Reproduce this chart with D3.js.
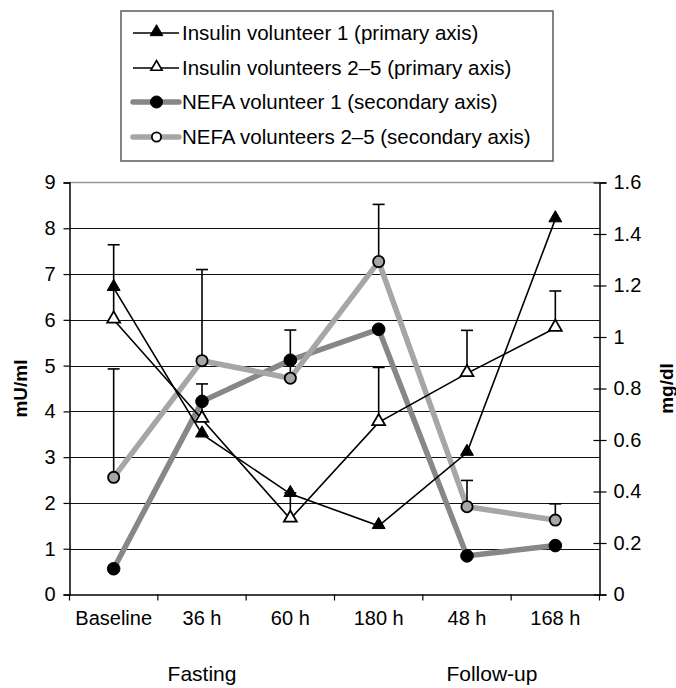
<!DOCTYPE html>
<html>
<head>
<meta charset="utf-8">
<script src="https://cdn.jsdelivr.net/npm/d3@7"></script>
<style>
  html, body { margin: 0; padding: 0; background: #fff; }
  svg { display: block; }
  text { font-family: "Liberation Sans", Arial, Helvetica, sans-serif; fill: #000; }
</style>
</head>
<body>
<svg id="chart" width="676" height="688"></svg>
<script>
// ---- data ----
const categories = ["Baseline", "36 h", "60 h", "180 h", "48 h", "168 h"];
const insulinVol1 = [6.7, 3.5, 2.2, 1.5, 3.1, 8.2];
const insulinVol25 = [6.0, 3.83, 1.65, 3.76, 4.83, 5.82];
const insulinVol25Err = [1.64, 0.77, 0.57, 1.2, 0.94, 0.81];
const nefaVol1 = [0.1, 0.75, 0.91, 1.03, 0.15, 0.19];
const nefaVol25 = [0.455, 0.908, 0.84, 1.293, 0.341, 0.289];
const nefaVol25Err = [0.421, 0.354, 0.187, 0.222, 0.102, 0.063];
const leftTicks = [0, 1, 2, 3, 4, 5, 6, 7, 8, 9];
const rightTicks = [0, 0.2, 0.4, 0.6, 0.8, 1.0, 1.2, 1.4, 1.6];
const seriesNames = [
  "Insulin volunteer 1 (primary axis)",
  "Insulin volunteers 2\u20135 (primary axis)",
  "NEFA volunteer 1 (secondary axis)",
  "NEFA volunteers 2\u20135 (secondary axis)"
];
const groupLabels = ["Fasting", "Follow-up"];

// ---- layout ----
const svg = d3.select("#chart");
const L = 69.5, R = 599.5, T = 182.5, B = 594.5;
const FS = 20;

const x = d3.scaleBand().domain(categories).range([L, R]).paddingInner(0).paddingOuter(0);
const cx = c => x(c) + x.bandwidth() / 2;
const yL = d3.scaleLinear().domain([0, 9]).range([B, T]);
const yR = d3.scaleLinear().domain([0, 1.6]).range([B, T]);

const darkGrey = "#878787";
const lightGrey = "#a6a6a6";

// gridlines (primary axis)
svg.append("g").selectAll("line")
  .data(leftTicks.filter(d => d > 0 && d < 9))
  .join("line")
  .attr("x1", L).attr("x2", R)
  .attr("y1", d => Math.round(yL(d)) + 0.5).attr("y2", d => Math.round(yL(d)) + 0.5)
  .attr("stroke", "#111").attr("stroke-width", 1);
// top border of plot area
svg.append("line")
  .attr("x1", L).attr("x2", R).attr("y1", T).attr("y2", T)
  .attr("stroke", "#999").attr("stroke-width", 1.6);

// axes
const axisLeft = d3.axisLeft(yL).tickValues(leftTicks).tickSize(6).tickPadding(8).tickFormat(d3.format("d"));
const gL = svg.append("g").attr("transform", `translate(${L},0)`).call(axisLeft);
const axisRight = d3.axisRight(yR).tickValues(rightTicks).tickSize(7).tickPadding(7)
  .tickFormat(d => String(+d.toFixed(1)));
const gR = svg.append("g").attr("transform", `translate(${R},0)`).call(axisRight);
// right ticks cross the axis
gR.selectAll(".tick line").attr("x1", -6);

const boundaries = categories.map(c => x(c)).concat([R]);
const axisBottom = d3.axisBottom(x).tickSize(0).tickPadding(24);
const gB = svg.append("g").attr("transform", `translate(0,${B})`).call(axisBottom);
gB.selectAll(".tick text").attr("dy", "0.3em");
gB.append("g").selectAll("line").data(boundaries).join("line")
  .attr("x1", d => d).attr("x2", d => d).attr("y1", 0).attr("y2", 6)
  .attr("stroke", "#000").attr("stroke-width", 1.2);

[gL, gR, gB].forEach(g => {
  g.select(".domain").attr("stroke", "#000").attr("stroke-width", 1.5);
  g.selectAll(".tick line").attr("stroke", "#000").attr("stroke-width", 1.2);
  g.selectAll("text").attr("font-size", FS).attr("font-family", '"Liberation Sans", Arial, sans-serif').attr("fill", "#000");
});

// axis titles
svg.append("text").attr("transform", `translate(27,${(T + B) / 2}) rotate(-90)`)
  .attr("text-anchor", "middle").attr("font-size", 19).attr("font-weight", "bold").text("mU/ml");
svg.append("text").attr("transform", `translate(673,${(T + B) / 2}) rotate(-90)`)
  .attr("text-anchor", "middle").attr("font-size", 19).attr("font-weight", "bold").text("mg/dl");

// group labels
svg.append("text").attr("x", cx(categories[1])).attr("y", 681).attr("text-anchor", "middle")
  .attr("font-size", 21).text(groupLabels[0]);
svg.append("text").attr("x", L + (R - L) * 0.797).attr("y", 681).attr("text-anchor", "middle")
  .attr("font-size", 21).text(groupLabels[1]);

// ---- series ----
const plot = svg.append("g");
const lineOf = (vals, ys) => d3.line().x((d, i) => cx(categories[i])).y(d => ys(d))(vals);

// NEFA lines
plot.append("path").attr("d", lineOf(nefaVol1, yR)).attr("fill", "none")
  .attr("stroke", darkGrey).attr("stroke-width", 5.5).attr("stroke-linejoin", "round");
plot.append("path").attr("d", lineOf(nefaVol25, yR)).attr("fill", "none")
  .attr("stroke", lightGrey).attr("stroke-width", 5.5).attr("stroke-linejoin", "round");
// Insulin lines
plot.append("path").attr("d", lineOf(insulinVol1, yL)).attr("fill", "none")
  .attr("stroke", "#000").attr("stroke-width", 1.6);
plot.append("path").attr("d", lineOf(insulinVol25, yL)).attr("fill", "none")
  .attr("stroke", "#000").attr("stroke-width", 1.6);

// error bars (upper)
function errBars(vals, errs, ys) {
  const g = plot.append("g");
  vals.forEach((v, i) => {
    const xc = cx(categories[i]);
    g.append("line").attr("x1", xc).attr("x2", xc).attr("y1", ys(v)).attr("y2", ys(v + errs[i]))
      .attr("stroke", "#000").attr("stroke-width", 1.6);
    g.append("line").attr("x1", xc - 6).attr("x2", xc + 6).attr("y1", ys(v + errs[i])).attr("y2", ys(v + errs[i]))
      .attr("stroke", "#000").attr("stroke-width", 1.6);
  });
}
errBars(nefaVol25, nefaVol25Err, yR);
errBars(insulinVol25, insulinVol25Err, yL);

// markers
const tri = d3.symbol().type(d3.symbolTriangle).size(72);
function triangles(vals, filled) {
  plot.append("g").selectAll("path").data(vals).join("path")
    .attr("d", tri)
    .attr("transform", (d, i) => `translate(${cx(categories[i])},${yL(d) - 1})`)
    .attr("fill", filled ? "#000" : "#fff").attr("stroke", "#000").attr("stroke-width", filled ? 1 : 1.8);
}
function circles(vals, fill, r) {
  plot.append("g").selectAll("circle").data(vals).join("circle")
    .attr("cx", (d, i) => cx(categories[i])).attr("cy", d => yR(d)).attr("r", r)
    .attr("fill", fill).attr("stroke", "#000").attr("stroke-width", fill === "#000" ? 1 : 1.8);
}
circles(nefaVol1, "#000", 6.3);
circles(nefaVol25, lightGrey, 5.6);
triangles(insulinVol1, true);
triangles(insulinVol25, false);

// ---- legend ----
const lg = svg.append("g");
lg.append("rect").attr("x", 121).attr("y", 11).attr("width", 432).attr("height", 150)
  .attr("fill", "#fff").attr("stroke", "#666").attr("stroke-width", 1.6);
const rowY = [33, 68, 102, 137];
const lx1 = 133, lx2 = 179, mx = 156.5;
seriesNames.forEach((name, i) => {
  const y = rowY[i];
  if (i < 2) {
    lg.append("line").attr("x1", lx1).attr("x2", lx2).attr("y1", y).attr("y2", y)
      .attr("stroke", "#000").attr("stroke-width", 1.6);
    lg.append("path").attr("d", d3.symbol().type(d3.symbolTriangle).size(i === 0 ? 70 : 55))
      .attr("transform", `translate(${mx},${y - 1})`)
      .attr("fill", i === 0 ? "#000" : "#fff").attr("stroke", "#000").attr("stroke-width", i === 0 ? 1 : 1.6);
  } else {
    lg.append("line").attr("x1", lx1).attr("x2", lx2).attr("y1", y).attr("y2", y)
      .attr("stroke", i === 2 ? darkGrey : lightGrey).attr("stroke-width", 5.5).attr("stroke-linecap", "round");
    lg.append("circle").attr("cx", mx).attr("cy", y).attr("r", i === 2 ? 6 : 4.6)
      .attr("fill", i === 2 ? "#000" : "#fff").attr("stroke", "#000").attr("stroke-width", i === 2 ? 1 : 1.8);
  }
  lg.append("text").attr("x", 182).attr("y", y).attr("dy", "0.35em")
    .attr("font-size", 20.5).text(name);
});
</script>
</body>
</html>
